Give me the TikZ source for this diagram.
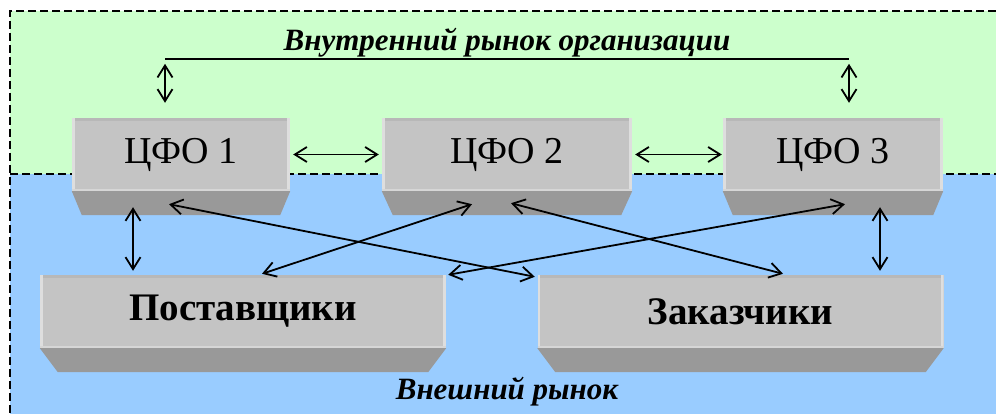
\documentclass[tikz,border=0pt]{standalone}
\usepackage{fontspec}
\setmainfont{Liberation Serif}
\usepackage{tikz}
\usetikzlibrary{calc,positioning,arrows.meta}
\definecolor{innergreen}{HTML}{CCFFCC}
\definecolor{outerblue}{HTML}{99CCFF}
\definecolor{faceg}{HTML}{C4C4C4}
\definecolor{bevelg}{HTML}{999999}
\definecolor{topg}{HTML}{B8B8B8}
\definecolor{edgeg}{HTML}{DEDEDE}
\tikzstyle{block} = [rectangle, fill=faceg, minimum height=73pt, inner sep=0pt,
  font=\fontsize{38}{40}\selectfont,
  path picture={
    \fill[topg] (path picture bounding box.north west) rectangle ([yshift=-3pt]path picture bounding box.north east);
    \fill[edgeg] (path picture bounding box.north west) rectangle ([xshift=2.5pt]path picture bounding box.south west);
    \fill[edgeg] ([xshift=-3pt]path picture bounding box.north east) rectangle (path picture bounding box.south east);
    \fill[edgeg!70!faceg] (path picture bounding box.south west) rectangle ([yshift=2pt]path picture bounding box.south east);
  }]
\tikzstyle{party} = [block, minimum width=406pt, font=\fontsize{39}{42}\selectfont\bfseries]
\tikzstyle{market} = [font=\fontsize{31}{33}\selectfont\bfseries\itshape]
\tikzstyle{link} = [<->, line width=1.8pt]
\tikzstyle{border} = [line width=2pt, dash pattern=on 8pt off 4pt]
\newcommand{\boxbevel}[2]{\fill[bevelg] (#1.south west) -- (#1.south east) -- ($(#1.south east)+(-#2,24)$) -- ($(#1.south west)+(#2,24)$) -- cycle;}

\begin{document}
\begin{tikzpicture}[x=1pt, y=-1pt, >={Straight Barb[length=12pt,width=15pt]}]
\useasboundingbox (0,0) rectangle (996,414);

\fill[innergreen] (10,11) rectangle (996,174);
\fill[outerblue] (10,174) rectangle (996,414);
\draw[border] (996,11) -- (10,11) -- (10,414);
\draw[border] (10,174) -- (996,174);

\node [block, minimum width=218pt] (cfo1) at (181,154.5) {ЦФО 1};
\node [block, minimum width=250pt, right of=cfo1, node distance=326pt] (cfo2) {ЦФО 2};
\node [block, minimum width=220pt, right of=cfo2, node distance=326pt] (cfo3) {ЦФО 3};
\node [party] (supp) at (243,311.5) {Поставщики};
\node [party, right of=supp, node distance=497.5pt] (cust) {Заказчики};

\boxbevel{cfo1}{10}
\boxbevel{cfo2}{11}
\boxbevel{cfo3}{10}
\boxbevel{supp}{18}
\boxbevel{cust}{18}

\coordinate (tl) at ($(cfo1.north)+(-16,-59)$);
\coordinate (tr) at ($(cfo3.north)+(16,-59)$);
\draw [line width=1.8pt] (tl) -- node [market, above, inner sep=0.5pt] (inner) {Внутренний рынок организации} (tr);
\node [market, anchor=base] (outer) at (507,399) {Внешний рынок};

\draw [link] ($(tl)+(0,5)$) -- ($(cfo1.north)+(-16,-15)$);
\draw [link] ($(tr)+(0,5)$) -- ($(cfo3.north)+(16,-15)$);
\draw [link, shorten <=3pt, shorten >=3pt] (cfo1) -- (cfo2);
\draw [link, shorten <=3pt, shorten >=1pt] (cfo2) -- (cfo3);
\draw [link] ($(cfo1.south)+(-48,16)$) -- ($(supp.north)+(-110,-4)$);
\draw [link] ($(cfo3.south)+(47,16)$) -- ($(cust.north)+(139.5,-4)$);
\draw [link] ($(cfo1.south)+(-12,13)$) -- ($(cust.north west)+(-2.5,2)$);
\draw [link] ($(cfo2.south)+(-35,13)$) -- ($(supp.north)+(19,-1)$);
\draw [link] ($(cfo2.south)+(4,12)$) -- ($(cust.north)+(42.5,-1)$);
\draw [link] ($(cfo3.south)+(12,13)$) -- ($(supp.north east)+(2,0)$);
\end{tikzpicture}
\end{document}
